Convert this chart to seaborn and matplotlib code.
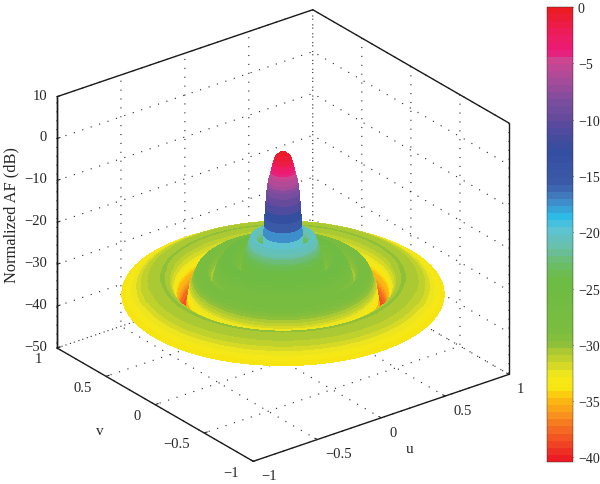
import numpy as np
import matplotlib
matplotlib.use("Agg")
import matplotlib.pyplot as plt
from matplotlib.colors import LinearSegmentedColormap, ListedColormap, Normalize
from matplotlib.cm import ScalarMappable
from mpl_toolkits.mplot3d import proj3d
import seaborn as sns

# radial profile of the pattern
radius = [0.0, .025, .05, .062, .072, .087, .098, .106, .117, .127, .14, .155, .18, .20, .22, .25, .27, .30,
          .33, .37, .41, .44, .47, .50, .534, .578, .60, .615, .64, .67, .70, .74, .80, .86, .92, 1.0]
level = [0.0, -.4, -1.4, -2.8, -4.5, -6.5, -8.6, -12, -18, -24, -27, -25, -20, -20.5, -22.5, -26, -32, -27,
         -25, -25.5, -27.5, -31, -28.5, -27.5, -28.5, -32, -37, -39.5, -37, -33, -31, -30.2, -30.5, -31.2, -32.5, -34]
z_ticks = [-50, -40, -30, -20, -10, 0, 10]
uv_ticks = [-1, -0.5, 0, 0.5, 1]
cbar_ticks = [0, -5, -10, -15, -20, -25, -30, -35, -40]
cbar_levels = [-40.4, -38, -36.5, -35, -34, -33, -31.8, -30, -28.9, -24.2, -22.7, -21.5, -19.7, -18.6, -17, -15.6,
               -12.6, -10.2, -8.2, -5.8, -4.3, -3.7, -2.2, 0]
cbar_colors = ["#ed1c24", "#f26522", "#f8941d", "#fdc010", "#f7e711", "#f5e81c", "#c8d42a", "#8cbf3a", "#7abd3f",
               "#6cbc45", "#6bbd6f", "#6abfa8", "#5cc3d2", "#2dbce8", "#4285c5", "#3b5aa8", "#344e9f", "#5b4a9d",
               "#7a4d9e", "#b04a98", "#d0438f", "#ec1a7a", "#ed1c60", "#ed1c24"]

sns.set_style("white")
plt.rcParams["font.family"] = ["Liberation Serif", "DejaVu Serif"]
plt.rcParams["grid.linestyle"] = (0, (1, 7))
plt.rcParams["grid.color"] = "#222222"
plt.rcParams["grid.linewidth"] = 0.8

vmin, vmax = -40.4, 0.0
pos = [(v - vmin) / (vmax - vmin) for v in cbar_levels]
base = LinearSegmentedColormap.from_list("af", list(zip(pos, cbar_colors)))
cmap = ListedColormap(base(np.linspace(0, 1, 64)))
norm = Normalize(vmin, vmax)

fig = plt.figure(figsize=(6, 4.85), dpi=100)
ax = fig.add_axes([0, 0, 1, 1], projection="3d", proj_type="ortho")
ax.view_init(elev=26.3, azim=-127.5)
ax.set_box_aspect((322, 322, 280))
ax.set_xlim(-1, 1); ax.set_ylim(-1, 1); ax.set_zlim(-50, 10)
ax.patch.set_alpha(0)

rr = np.linspace(0, radius[-1], 260)
th = np.linspace(0, 2 * np.pi, 181)
R, T = np.meshgrid(rr, th)
Z = np.interp(R, radius, level)
ax.plot_surface(R * np.cos(T), R * np.sin(T), Z, rstride=1, cstride=1,
                facecolors=cmap(norm(Z)), shade=False, linewidth=0, antialiased=False)

fmt = lambda v: f"{v:g}".replace("-", "\u2212")
ax.set_xticks(uv_ticks); ax.set_yticks(uv_ticks); ax.set_zticks(z_ticks)
ax.set_xticklabels([fmt(v) for v in uv_ticks], fontsize=10.5)
ax.set_yticklabels([fmt(v) for v in uv_ticks], fontsize=10.5)
ax.set_zticklabels([fmt(v) for v in z_ticks], fontsize=10.5)
ax.grid(True)
for a in (ax.xaxis, ax.yaxis, ax.zaxis):
    a.set_pane_color((1, 1, 1, 0))
    a.pane.set_edgecolor((1, 1, 1, 0))
    a.line.set_color("#1a1a1a"); a.line.set_linewidth(1.0)
    a._axinfo["tick"]["color"] = "#1a1a1a"
    a._axinfo["tick"]["linewidth"] = {True: 0.8, False: 0.5}
    a._axinfo["tick"]["inward_factor"] = 0.0
    a._axinfo["tick"]["outward_factor"] = 0.15
ax.tick_params(axis="x", pad=-6)
ax.tick_params(axis="y", pad=-6)
ax.tick_params(axis="z", pad=0)
ax.xaxis.set_ticks_position("lower"); ax.yaxis.set_ticks_position("lower"); ax.zaxis.set_ticks_position("upper")

# tick labels: fine shift in pixels from matplotlib's own place
def nudge(axis, dx, dy, ha):
    for tick in axis.get_major_ticks():
        lab = tick.label1
        lab.set_ha(ha)
        setter = lab.set_position
        def moved(p, s=setter):
            q = ax.transData.transform(p) + np.array([dx, -dy])
            s(tuple(ax.transData.inverted().transform(q)))
        lab.set_position = moved

nudge(ax.xaxis, 6, 4, "left")
nudge(ax.yaxis, -12, 1, "right")
nudge(ax.zaxis, 8.5, -7, "right")

# axis titles, pinned to their pixel positions in the figure
def title(axis, text, x_px, y_px, size, rotation=0):
    axis.set_rotate_label(False)
    axis.set_label_text(text, fontsize=size, rotation=rotation)
    lab = axis.label
    setter = lab.set_position
    lab.set_position = lambda _p: setter(tuple(ax.transData.inverted().transform((x_px, 485 - y_px))))
    lab.set_ha("center")

title(ax.xaxis, "u", 410, 450, 11)
title(ax.yaxis, "v", 100, 432, 11)
title(ax.zaxis, "Normalized AF (dB)", 11, 215, 11.8, 90)

# box outline
for xs, ys, zs in [([-1, 1], [1, 1], [10, 10]), ([1, 1], [1, -1], [10, 10]),
                   ([-1, -1], [1, 1], [-50, 10]), ([1, 1], [-1, -1], [-50, 10])]:
    ax.plot(xs, ys, zs, color="#1a1a1a", lw=1.0, zorder=1)

# place the box: floor corners should land at the reference pixels
def px(x, y, z):
    fig.canvas.draw()
    X, Y, _ = proj3d.proj_transform(x, y, z, ax.get_proj())
    return ax.transData.transform((X, Y))

target_l, target_r = np.array([57.0, 485 - 349.0]), np.array([509.0, 485 - 379.0])
box = np.array([0.0, 0.0, 1.0])
for _ in range(3):
    a, b = px(-1, 1, -50), px(1, -1, -50)
    size = box[2] * (target_r[0] - target_l[0]) / (b[0] - a[0])
    box[2] = size
    ax.set_position([box[0], box[1], size, size * 600 / 485])
    a = px(-1, 1, -50)
    box[0] += (target_l[0] - a[0]) / 600
    box[1] += (target_l[1] - a[1]) / 485
    ax.set_position([box[0], box[1], size, size * 600 / 485])

cax = fig.add_axes([547 / 600, 1 - 463 / 485, 26 / 600, 455 / 485])
cb = fig.colorbar(ScalarMappable(norm, cmap), cax=cax, ticks=cbar_ticks)
cb.ax.set_yticklabels([fmt(v) for v in cbar_ticks], fontsize=10)
cb.ax.tick_params(direction="in", length=3, width=0.6, pad=3.5, color="#222222")
cb.outline.set_linewidth(0.3)
fig.savefig("out.png", dpi=100)
